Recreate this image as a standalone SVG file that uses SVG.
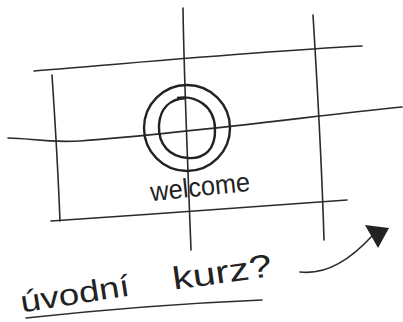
<svg xmlns="http://www.w3.org/2000/svg" width="403" height="322" viewBox="0 0 403 322">
<style>
.ln{fill:none;stroke:#2b2b2b;stroke-width:1.6;stroke-linecap:round;stroke-linejoin:round}
.ck{fill:none;stroke:#222;stroke-width:2.4}
.tx{font-family:"Liberation Sans","DejaVu Sans",sans-serif;fill:#222}
</style>
<rect width="403" height="322" fill="#ffffff"/>
<g id="grid">
<path class="ln" d="M34,71 C120,64 250,52 362,46"/>
<path class="ln" d="M8,138 C30,138 45,143 80,141 C200,132 320,115 402,107"/>
<path class="ln" d="M51,221 C150,214 260,207 347,200"/>
<path class="ln" d="M52,75 C55,120 58,170 60,221"/>
<path class="ln" d="M183,8 C184,80 188,170 191,250"/>
<path class="ln" d="M313,15 C317,80 322,170 324,240"/>
</g>
<g id="welcome">
<ellipse class="ck" cx="187" cy="128" rx="43" ry="43"/>
<path class="ck" d="M177,98 C195,95 214,105 215,128 C216,150 204,159 188,158 C170,157 158,145 159,125 C160,108 170,99 186,98"/>
<text class="tx" x="150" y="196" font-size="27" textLength="100" lengthAdjust="spacingAndGlyphs" transform="rotate(-6 200 186)">welcome</text>
</g>
<g id="caption">
<text class="tx" x="20" y="304" font-size="30" textLength="110" lengthAdjust="spacingAndGlyphs" transform="rotate(-9 75 295)">úvodní</text>
<text class="tx" x="172" y="283" font-size="32" textLength="100" lengthAdjust="spacingAndGlyphs" transform="rotate(-8 222 272)">kurz?</text>
<path class="ln" d="M26,318 C100,310 190,303 262,300"/>
</g>
<g id="connectors">
<path class="ln" stroke-width="2" d="M300,272 C325,275 350,260 372,236"/>
<polygon points="365,225 389,228 378,248" fill="#222"/>
</g>
</svg>
